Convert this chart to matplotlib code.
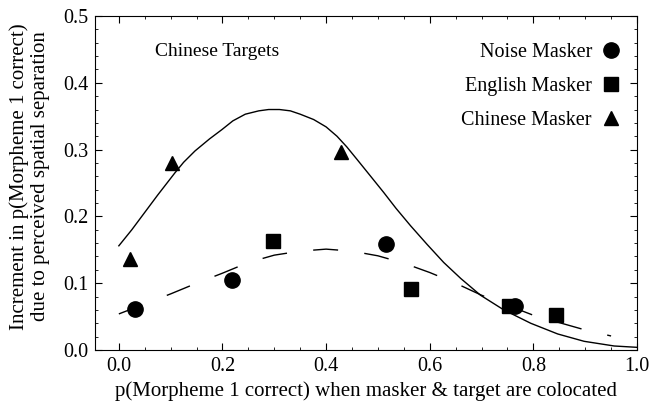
import matplotlib.pyplot as plt
from matplotlib.ticker import MultipleLocator, FormatStrFormatter

plt.rcParams['font.family'] = ['Liberation Serif', 'DejaVu Serif']

# data points
noise_x = [0.031, 0.218, 0.515, 0.764]
noise_y = [0.062, 0.105, 0.158, 0.066]
english_x = [0.298, 0.563, 0.753, 0.843]
english_y = [0.163, 0.092, 0.066, 0.052]
chinese_x = [0.021, 0.102, 0.429]
chinese_y = [0.136, 0.280, 0.297]

# fitted curves, sampled off the figure
solid_x = [0.0, 0.025, 0.05, 0.075, 0.108, 0.125, 0.147, 0.175, 0.199, 0.22,
           0.244, 0.27, 0.289, 0.31, 0.331, 0.35, 0.376, 0.4, 0.421, 0.44,
           0.46, 0.485, 0.511, 0.535, 0.563, 0.595, 0.627, 0.66, 0.698, 0.743,
           0.795, 0.847, 0.898, 0.956, 1.0]
solid_y = [0.156, 0.180, 0.206, 0.232, 0.265, 0.281, 0.298, 0.316, 0.330, 0.343,
           0.353, 0.358, 0.360, 0.360, 0.358, 0.353, 0.345, 0.334, 0.320, 0.304,
           0.285, 0.261, 0.236, 0.212, 0.186, 0.158, 0.131, 0.107, 0.082, 0.060,
           0.040, 0.024, 0.013, 0.006, 0.004]
dash_x = [0.0, 0.05, 0.1, 0.15, 0.2, 0.25, 0.3, 0.35, 0.4, 0.45,
          0.5, 0.55, 0.6, 0.65, 0.7, 0.75, 0.8, 0.85, 0.9, 0.95]
dash_y = [0.054, 0.069, 0.084, 0.100, 0.115, 0.131, 0.142, 0.148, 0.151, 0.148,
          0.141, 0.130, 0.116, 0.100, 0.082, 0.067, 0.052, 0.041, 0.030, 0.021]

fig = plt.figure(figsize=(6.49, 4.05), dpi=100)
ax = fig.add_axes([0.1464, 0.1358, 0.8351, 0.8247])

ax.plot(solid_x, solid_y, color='black', lw=1.0)
ax.plot(dash_x, dash_y, color='black', lw=1.0, dashes=(18, 19))

ax.plot(noise_x, noise_y, 'o', color='black', ms=11, ls='none', label='Noise Masker')
ax.plot(english_x, english_y, 's', color='black', ms=9.5, ls='none', label='English Masker')
ax.plot(chinese_x, chinese_y, '^', color='black', ms=10.5, ls='none', label='Chinese Masker')

ax.text(0.19, 0.447, 'Chinese Targets', ha='center', va='center', fontsize=14)

ax.legend(loc='upper right', markerfirst=False, frameon=False, fontsize=14.5,
          handlelength=0.8, handletextpad=0.55, labelspacing=0.72,
          borderpad=0, borderaxespad=0, bbox_to_anchor=(0.967, 0.918))

ax.set_xlim(-0.046, 1.0)
ax.set_ylim(0, 0.5)
ax.xaxis.set_major_locator(MultipleLocator(0.2))
ax.xaxis.set_minor_locator(MultipleLocator(0.05))
ax.yaxis.set_major_locator(MultipleLocator(0.1))
ax.yaxis.set_minor_locator(MultipleLocator(0.02))
ax.xaxis.set_major_formatter(FormatStrFormatter('%.1f'))
ax.yaxis.set_major_formatter(FormatStrFormatter('%.1f'))
ax.tick_params(which='both', direction='in', top=True, right=True, labelsize=14.5)
ax.tick_params(which='major', length=5, pad=5)
ax.tick_params(which='minor', length=2.5)

ax.set_xlabel('p(Morpheme 1 correct) when masker & target are colocated', fontsize=15,
              labelpad=4)
ax.set_ylabel('Increment in p(Morpheme 1 correct)\ndue to perceived spatial separation',
              fontsize=15, linespacing=1.15, va='center')
ax.yaxis.set_label_coords(-0.12, 0.52)

plt.savefig('out.png', dpi=100)
